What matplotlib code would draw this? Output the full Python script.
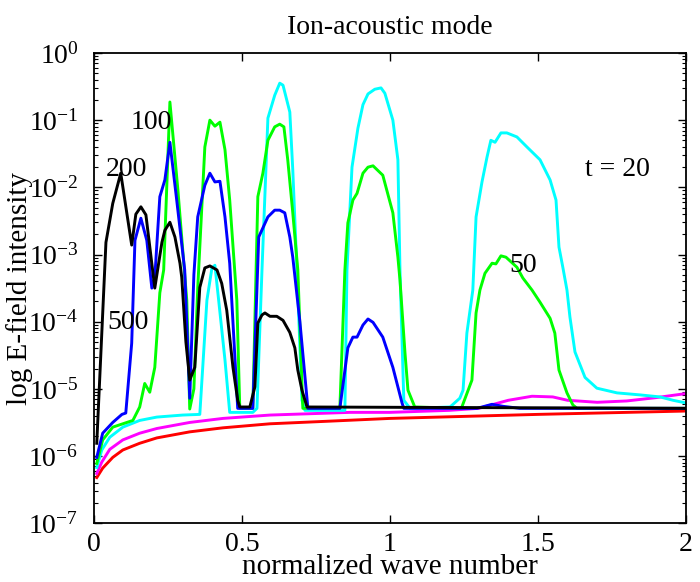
import numpy as np
import matplotlib
matplotlib.use("Agg")
import matplotlib.pyplot as plt
from matplotlib.ticker import LogLocator, NullFormatter, FixedLocator

plt.rcParams["font.family"] = ["Liberation Serif", "DejaVu Serif"]
plt.rcParams["mathtext.fontset"] = "custom"
plt.rcParams["mathtext.rm"] = "Liberation Serif"
plt.rcParams["mathtext.it"] = "Liberation Serif:italic"
plt.rcParams["axes.unicode_minus"] = False

# ---- data: wave number vs log10(E-field intensity) ----
cyan_x = [0.010, 0.027, 0.054, 0.098, 0.155, 0.213, 0.300, 0.358,
          0.382, 0.399, 0.409, 0.419, 0.443, 0.459,
          0.537, 0.551, 0.568, 0.588, 0.611, 0.628, 0.639, 0.662, 0.672, 0.686, 0.703, 0.713,
          0.848, 0.855, 0.872, 0.892, 0.909, 0.926, 0.949, 0.970, 0.983, 1.010, 1.027, 1.034,
          1.047, 1.068, 1.203, 1.236, 1.247, 1.260, 1.280, 1.291, 1.311, 1.328, 1.341, 1.355,
          1.375, 1.395, 1.429, 1.463, 1.507, 1.541, 1.561, 1.571, 1.584, 1.598, 1.608, 1.625,
          1.659, 1.699, 1.767, 1.845, 1.912, 1.956, 2.000]
cyan_log = [-6.17, -5.91, -5.72, -5.57, -5.47, -5.42, -5.39, -5.38,
            -3.68, -3.20, -3.16, -3.57, -4.57, -5.35,
            -5.35, -5.29, -3.23, -0.97, -0.63, -0.45, -0.48, -0.88, -1.74, -3.23, -5.17, -5.32,
            -5.32, -3.23, -1.70, -1.12, -0.77, -0.61, -0.54, -0.52, -0.60, -1.00, -1.59, -3.23,
            -5.17, -5.29, -5.27, -5.14, -5.02, -4.17, -3.53, -2.44, -1.92, -1.55, -1.30, -1.33,
            -1.19, -1.19, -1.25, -1.40, -1.59, -1.89, -2.19, -2.89, -3.19, -3.53, -3.93, -4.45,
            -4.83, -4.99, -5.06, -5.09, -5.12, -5.17, -5.21]

green_x = [0.010, 0.030, 0.064, 0.132, 0.155, 0.172, 0.189, 0.206, 0.223, 0.236, 0.257, 0.284,
           0.314, 0.324, 0.338, 0.351, 0.375, 0.392, 0.409, 0.426, 0.443, 0.459, 0.483, 0.493,
           0.537, 0.554, 0.571, 0.588, 0.611, 0.628, 0.642, 0.655, 0.672, 0.689, 0.706, 0.831,
           0.848, 0.858, 0.875, 0.889, 0.909, 0.926, 0.943, 0.976, 1.010, 1.027, 1.034, 1.051,
           1.061, 1.084, 1.236, 1.243, 1.277, 1.291, 1.304, 1.321, 1.345, 1.358, 1.375, 1.392,
           1.429, 1.449, 1.480, 1.507, 1.541, 1.557, 1.571, 1.598, 1.618, 1.632, 2.000]
green_log = [-6.11, -5.76, -5.57, -5.47, -5.27, -4.92, -5.05, -4.68, -3.57, -3.23, -0.73, -2.04,
             -3.68, -5.30, -5.00, -3.50, -1.40, -1.00, -1.09, -1.03, -1.44, -2.19, -3.68, -5.29,
             -5.29, -2.14, -1.79, -1.30, -1.10, -1.06, -1.10, -1.59, -2.38, -3.23, -5.29, -5.29,
             -3.23, -2.53, -2.19, -2.09, -1.79, -1.70, -1.68, -1.82, -2.38, -3.04, -3.38, -4.47,
             -5.02, -5.27, -5.29, -5.27, -4.87, -3.87, -3.53, -3.28, -3.13, -3.14, -3.02, -3.04,
             -3.19, -3.35, -3.53, -3.71, -3.95, -4.17, -4.72, -5.06, -5.24, -5.29, -5.29]

blue_x = [0.010, 0.030, 0.064, 0.095, 0.108, 0.128, 0.139, 0.159, 0.179, 0.196, 0.206, 0.223,
          0.240, 0.257, 0.280, 0.307, 0.324, 0.338, 0.351, 0.375, 0.392, 0.409, 0.426, 0.443,
          0.459, 0.486, 0.537, 0.557, 0.588, 0.611, 0.628, 0.645, 0.662, 0.672, 0.696, 0.723,
          0.831, 0.858, 0.875, 0.889, 0.909, 0.926, 0.943, 0.976, 1.010, 1.041, 1.047, 1.294,
          1.345, 1.382, 1.439, 2.000]
blue_log = [-6.02, -5.66, -5.50, -5.38, -5.36, -4.32, -2.79, -2.46, -2.79, -3.50, -3.34, -2.14,
            -1.89, -1.33, -2.19, -3.23, -5.14, -3.30, -2.44, -1.97, -1.79, -1.92, -1.91, -2.44,
            -3.13, -5.29, -5.29, -2.74, -2.44, -2.34, -2.34, -2.38, -2.74, -3.04, -4.00, -5.29,
            -5.29, -4.39, -4.23, -4.23, -4.05, -3.96, -4.01, -4.23, -4.68, -5.21, -5.29, -5.29,
            -5.23, -5.26, -5.29, -5.29]

black_x = [0.010, 0.041, 0.064, 0.091, 0.128, 0.142, 0.159, 0.176, 0.206, 0.230, 0.240, 0.257,
           0.274, 0.291, 0.297, 0.311, 0.324, 0.341, 0.358, 0.375, 0.392, 0.416, 0.432, 0.449,
           0.470, 0.486, 0.493, 0.527, 0.544, 0.554, 0.568, 0.578, 0.595, 0.618, 0.639, 0.662,
           0.679, 0.689, 0.703, 0.720, 2.000]
black_log = [-5.81, -2.82, -2.24, -1.79, -2.86, -2.40, -2.29, -2.41, -3.50, -2.82, -2.64, -2.52,
             -2.74, -3.13, -3.34, -4.30, -4.87, -4.68, -3.49, -3.20, -3.17, -3.23, -3.43, -3.83,
             -4.68, -5.17, -5.27, -5.27, -4.97, -4.02, -3.90, -3.87, -3.92, -3.92, -3.98, -4.16,
             -4.39, -4.72, -5.02, -5.27, -5.29]

magenta_x = [0.010, 0.027, 0.054, 0.098, 0.155, 0.213, 0.324, 0.436, 0.595, 0.865, 1.000,
             1.200, 1.300, 1.400, 1.480, 1.550, 1.600, 1.700, 1.800, 1.900, 2.000]
magenta_log = [-6.26, -6.09, -5.90, -5.76, -5.66, -5.59, -5.50, -5.44, -5.39, -5.35, -5.35,
               -5.32, -5.29, -5.17, -5.11, -5.12, -5.17, -5.20, -5.18, -5.13, -5.07]

red_x = [0.010, 0.030, 0.064, 0.098, 0.155, 0.213, 0.324, 0.436, 0.595, 0.800, 1.000,
         1.500, 2.000]
red_log = [-6.32, -6.18, -6.02, -5.91, -5.81, -5.73, -5.64, -5.58, -5.52, -5.48, -5.44,
           -5.38, -5.33]

labels = ["100", "200", "500", "t = 20", "50"]
label_x = [0.193, 0.111, 0.115, 1.767, 1.449]
label_log = [-1.03, -1.74, -4.01, -1.73, -3.17]

# ---- plot ----
fig = plt.figure(figsize=(7.0, 5.82), dpi=100)
ax = fig.add_axes([0.134, 0.101, 0.846, 0.808])

series = [
    (red_x, red_log, "#ff0000"),
    (magenta_x, magenta_log, "#ff00ff"),
    (cyan_x, cyan_log, "#00ffff"),
    (green_x, green_log, "#00ff00"),
    (blue_x, blue_log, "#0000ff"),
    (black_x, black_log, "#000000"),
]
for xs, ls, col in series:
    ax.plot(xs, 10.0 ** np.array(ls), color=col, linewidth=2.1)

for txt, tx, ty in zip(labels, label_x, label_log):
    ax.text(tx, 10.0 ** ty, txt, fontsize=20, ha="center", va="center")

ax.set_yscale("log")
ax.set_xlim(0, 2)
ax.set_ylim(1e-7, 1)
ax.xaxis.set_major_locator(FixedLocator([0, 0.5, 1, 1.5, 2]))
ax.set_xticklabels(["0", "0.5", "1", "1.5", "2"])
ax.yaxis.set_major_locator(LogLocator(base=10, numticks=20))
ax.yaxis.set_minor_locator(LogLocator(base=10, subs=np.arange(2, 10), numticks=20))
ax.yaxis.set_minor_formatter(NullFormatter())

ax.tick_params(which="both", direction="in", top=True, right=True, labelsize=20)
ax.tick_params(which="major", length=6, width=1)
ax.tick_params(which="minor", length=3, width=0.8)
ax.tick_params(axis="x", pad=6)
ax.tick_params(axis="y", pad=11)
for sp in ax.spines.values():
    sp.set_linewidth(1.3)

ax.set_title("Ion-acoustic mode", fontsize=20, pad=14)
ax.set_xlabel("normalized wave number", fontsize=21, labelpad=-1.5)
ax.set_ylabel("log E-field intensity", fontsize=21)
ax.yaxis.set_label_coords(-0.102, 0.5)

fig.savefig("out.png", dpi=100)
